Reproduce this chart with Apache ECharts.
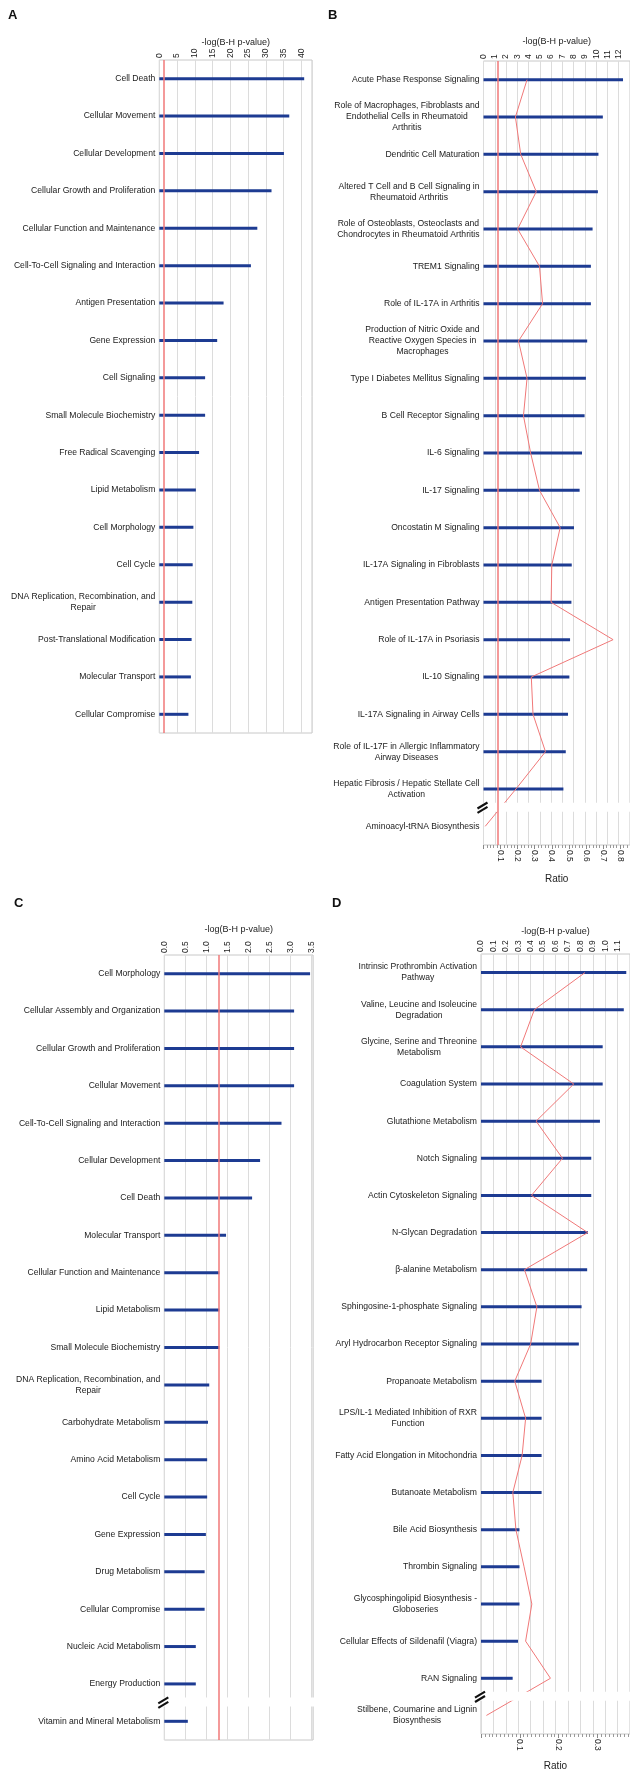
<!DOCTYPE html>
<html>
<head>
<meta charset="utf-8">
<script src="https://cdn.jsdelivr.net/npm/echarts@6/dist/echarts.min.js"></script>
<style>
  html, body { margin: 0; padding: 0; background: #fff; }
  #chart { width: 630px; height: 1773px; }
</style>
</head>
<body>
<div id="chart"></div>
<script>
// panel A
const aCategories = [
  'Cell Death', 'Cellular Movement', 'Cellular Development', 'Cellular Growth and Proliferation',
  'Cellular Function and Maintenance', 'Cell-To-Cell Signaling and Interaction', 'Antigen Presentation',
  'Gene Expression', 'Cell Signaling', 'Small Molecule Biochemistry', 'Free Radical Scavenging',
  'Lipid Metabolism', 'Cell Morphology', 'Cell Cycle', 'DNA Replication, Recombination, and\nRepair',
  'Post-Translational Modification', 'Molecular Transport', 'Cellular Compromise'
];
const aValues = [40.8, 36.6, 35.1, 31.6, 27.6, 25.8, 18.1, 16.3, 12.9, 12.9, 11.2, 10.3, 9.6, 9.4, 9.3, 9.1, 8.9, 8.2];

// panel B
const bCategories = [
  'Acute Phase Response Signaling',
  'Role of Macrophages, Fibroblasts and\nEndothelial Cells in Rheumatoid\nArthritis',
  'Dendritic Cell Maturation',
  'Altered T Cell and B Cell Signaling in\nRheumatoid Arthritis',
  'Role of Osteoblasts, Osteoclasts and\nChondrocytes in Rheumatoid Arthritis',
  'TREM1 Signaling',
  'Role of IL-17A in Arthritis',
  'Production of Nitric Oxide and\nReactive Oxygen Species in\nMacrophages',
  'Type I Diabetes Mellitus Signaling',
  'B Cell Receptor Signaling',
  'IL-6 Signaling',
  'IL-17 Signaling',
  'Oncostatin M Signaling',
  'IL-17A Signaling in Fibroblasts',
  'Antigen Presentation Pathway',
  'Role of IL-17A in Psoriasis',
  'IL-10 Signaling',
  'IL-17A Signaling in Airway Cells',
  'Role of IL-17F in Allergic Inflammatory\nAirway Diseases',
  'Hepatic Fibrosis / Hepatic Stellate Cell\nActivation',
  'Aminoacyl-tRNA Biosynthesis'
];
const bValues = [12.38, 10.59, 10.2, 10.15, 9.68, 9.53, 9.53, 9.2, 9.09, 8.97, 8.74, 8.53, 8.03, 7.83, 7.8, 7.68, 7.62, 7.5, 7.3, 7.09, null];
const bRatios = [0.255, 0.187, 0.218, 0.309, 0.2, 0.328, 0.346, 0.205, 0.255, 0.234, 0.276, 0.328, 0.449, 0.4, 0.396, 0.759, 0.28, 0.29, 0.363, 0.19, 0.01];

// panel C
const cCategories = [
  'Cell Morphology', 'Cellular Assembly and Organization', 'Cellular Growth and Proliferation',
  'Cellular Movement', 'Cell-To-Cell Signaling and Interaction', 'Cellular Development', 'Cell Death',
  'Molecular Transport', 'Cellular Function and Maintenance', 'Lipid Metabolism', 'Small Molecule Biochemistry',
  'DNA Replication, Recombination, and\nRepair', 'Carbohydrate Metabolism', 'Amino Acid Metabolism',
  'Cell Cycle', 'Gene Expression', 'Drug Metabolism', 'Cellular Compromise', 'Nucleic Acid Metabolism',
  'Energy Production', 'Vitamin and Mineral Metabolism'
];
const cValues = [3.47, 3.09, 3.09, 3.09, 2.79, 2.28, 2.09, 1.47, 1.31, 1.31, 1.31, 1.07, 1.04, 1.02, 1.02, 0.99, 0.96, 0.96, 0.75, 0.75, 0.56];

// panel D
const dCategories = [
  'Intrinsic Prothrombin Activation\nPathway',
  'Valine, Leucine and Isoleucine\nDegradation',
  'Glycine, Serine and Threonine\nMetabolism',
  'Coagulation System',
  'Glutathione Metabolism',
  'Notch Signaling',
  'Actin Cytoskeleton Signaling',
  'N-Glycan Degradation',
  'β-alanine Metabolism',
  'Sphingosine-1-phosphate Signaling',
  'Aryl Hydrocarbon Receptor Signaling',
  'Propanoate Metabolism',
  'LPS/IL-1 Mediated Inhibition of RXR\nFunction',
  'Fatty Acid Elongation in Mitochondria',
  'Butanoate Metabolism',
  'Bile Acid Biosynthesis',
  'Thrombin Signaling',
  'Glycosphingolipid Biosynthesis -\nGloboseries',
  'Cellular Effects of Sildenafil (Viagra)',
  'RAN Signaling',
  'Stilbene, Coumarine and Lignin\nBiosynthesis'
];
const dValues = [1.17, 1.15, 0.98, 0.98, 0.958, 0.888, 0.888, 0.86, 0.855, 0.81, 0.788, 0.488, 0.488, 0.488, 0.488, 0.31, 0.31, 0.31, 0.298, 0.255, null];
const dRatios = [0.268, 0.1375, 0.102, 0.239, 0.142, 0.21, 0.13, 0.275, 0.112, 0.144, 0.128, 0.087, 0.115, 0.106, 0.082, 0.09, 0.111, 0.131, 0.115, 0.179, 0.014];

const threshold = 1.3;

const FONT = 'Liberation Sans';
const BAR = '#1d3b92';
const RED = '#f07878';
const GRIDLINE = '#dcdcdc';

const chart = echarts.init(document.getElementById('chart'));

function catAxis(gridIndex, data) {
  return {
    type: 'category', gridIndex, data, inverse: true,
    axisLine: { show: false }, axisTick: { show: false }, splitLine: { show: false },
    axisLabel: {
      interval: 0, margin: 4,
      formatter: v => v.split('\n').map(s => '{c|' + s + '}').join('\n'),
      rich: { c: { fontFamily: FONT, fontSize: 8.6, color: '#1a1a1a', align: 'center', lineHeight: 11 } }
    }
  };
}

function topAxis(gridIndex, max, interval, digits, nameGap) {
  return {
    type: 'value', gridIndex, position: 'top', min: 0, max, interval,
    name: '-log(B-H p-value)', nameLocation: 'middle', nameGap, nameMoveOverlap: false,
    nameTextStyle: { fontFamily: FONT, fontSize: 9, color: '#222' },
    axisLine: { show: false }, axisTick: { show: false },
    splitLine: { show: true, lineStyle: { color: GRIDLINE, width: 1 } },
    axisLabel: {
      rotate: -90, margin: 2, showMaxLabel: false,
      fontFamily: FONT, fontSize: 8.5, color: '#222',
      formatter: v => v.toFixed(digits)
    }
  };
}

function ratioAxis(gridIndex, max, minorSplit, nameGap) {
  return {
    type: 'value', gridIndex, position: 'bottom', min: 0, max, interval: 0.1,
    name: 'Ratio', nameLocation: 'middle', nameGap, nameMoveOverlap: false,
    nameTextStyle: { fontFamily: FONT, fontSize: 10, color: '#222' },
    axisLine: { show: false },
    axisTick: { show: true, length: 4, lineStyle: { color: '#888' } },
    minorTick: { show: true, splitNumber: minorSplit, length: 3, lineStyle: { color: '#999' } },
    splitLine: { show: false },
    axisLabel: {
      rotate: -90, margin: 5, showMinLabel: false, showMaxLabel: false,
      fontFamily: FONT, fontSize: 8.5, color: '#222',
      formatter: v => v.toFixed(1)
    }
  };
}

function barSeries(xAxisIndex, yAxisIndex, data, withThreshold) {
  const s = {
    type: 'bar', xAxisIndex, yAxisIndex, data, barWidth: 3,
    itemStyle: { color: BAR }, silent: true
  };
  if (withThreshold) {
    s.markLine = {
      symbol: 'none', silent: true, z: 5, label: { show: false },
      lineStyle: { color: RED, type: 'solid', width: 1.5 },
      data: [{ xAxis: threshold }]
    };
  }
  return s;
}

function ratioSeries(xAxisIndex, yAxisIndex, data) {
  return {
    type: 'line', xAxisIndex, yAxisIndex, data, symbol: 'none', silent: true,
    lineStyle: { color: RED, width: 1 }, z: 2
  };
}

const letter = (text, left, top) => ({
  text, left, top, padding: 0,
  textStyle: { fontFamily: FONT, fontSize: 13, fontWeight: 'bold', color: '#111' }
});

const gridStyle = { show: true, borderColor: '#c8c8c8', borderWidth: 1, backgroundColor: 'transparent' };

chart.setOption({
  animation: false,
  title: [letter('A', 8, 9), letter('B', 328, 9), letter('C', 14, 897), letter('D', 332, 897)],
  grid: [
    Object.assign({ left: 159.3, top: 60, width: 152.7, height: 673 }, gridStyle),
    Object.assign({ left: 483.5, top: 61, width: 147.5, height: 784 }, gridStyle),
    Object.assign({ left: 164.3, top: 955, width: 148.7, height: 785 }, gridStyle),
    Object.assign({ left: 481, top: 954, width: 160, height: 780 }, gridStyle)
  ],
  xAxis: [
    topAxis(0, 43, 5, 0, 13),
    topAxis(1, 13, 1, 0, 15),
    ratioAxis(1, 0.858, 5, 29),
    topAxis(2, 3.54, 0.5, 1, 21),
    topAxis(3, 1.2, 0.1, 1, 18),
    ratioAxis(3, 0.384, 10, 27)
  ],
  yAxis: [
    catAxis(0, aCategories),
    catAxis(1, bCategories),
    catAxis(2, cCategories),
    catAxis(3, dCategories)
  ],
  series: [
    barSeries(0, 0, aValues, true),
    barSeries(1, 1, bValues, true),
    ratioSeries(2, 1, bRatios),
    barSeries(3, 2, cValues, true),
    barSeries(4, 3, dValues, false),
    ratioSeries(5, 3, dRatios)
  ]
});

// axis-break marks between the last two categories of B, C and D
function breakMark(xAxisIndex, yAxisIndex, cats, xMax) {
  const n = cats.length;
  const y1 = chart.convertToPixel({ yAxisIndex }, cats[n - 2]);
  const y2 = chart.convertToPixel({ yAxisIndex }, cats[n - 1]);
  const y = (y1 + y2) / 2;
  const x0 = chart.convertToPixel({ xAxisIndex }, 0);
  const x1 = chart.convertToPixel({ xAxisIndex }, xMax);
  const slash = dy => ({
    type: 'line', z: 6,
    shape: { x1: x0 - 6, y1: y + dy + 3, x2: x0 + 4, y2: y + dy - 3 },
    style: { stroke: '#111', lineWidth: 2.2 }
  });
  return [
    { type: 'rect', z: 4, shape: { x: x0 - 6, y: y - 5, width: x1 - x0 + 8, height: 9 }, style: { fill: '#fff' } },
    slash(-2.2), slash(2.2)
  ];
}

chart.setOption({
  graphic: [].concat(
    breakMark(1, 1, bCategories, 13),
    breakMark(3, 2, cCategories, 3.54),
    breakMark(4, 3, dCategories, 1.2)
  )
});
</script>
</body>
</html>
